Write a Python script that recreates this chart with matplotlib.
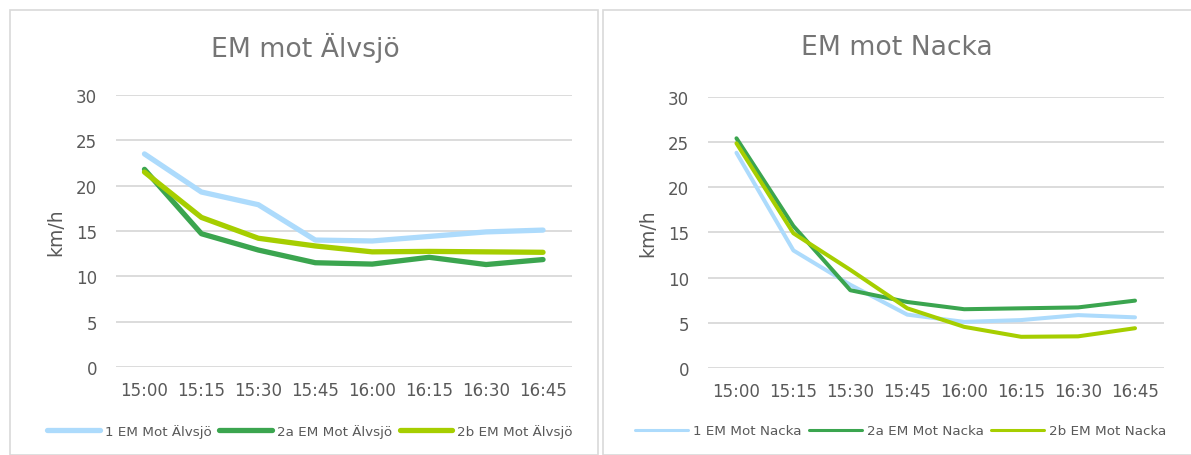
import matplotlib
matplotlib.use("Agg")
import matplotlib.pyplot as plt
from matplotlib.patches import Rectangle
from matplotlib.lines import Line2D

# Time slots on the category axis
times = ["15:00", "15:15", "15:30", "15:45", "16:00", "16:15", "16:30", "16:45"]
yticks = [0, 5, 10, 15, 20, 25, 30]

# Speeds (km/h) towards Älvsjö
alvsjo_1 = [23.5, 19.3, 17.9, 14.0, 13.9, 14.4, 14.9, 15.1]
alvsjo_2a = [21.8, 14.7, 12.9, 11.5, 11.35, 12.1, 11.3, 11.85]
alvsjo_2b = [21.5, 16.5, 14.2, 13.35, 12.7, 12.75, 12.7, 12.65]
alvsjo_labels = ["1 EM Mot Älvsjö", "2a EM Mot Älvsjö", "2b EM Mot Älvsjö"]

# Speeds (km/h) towards Nacka
nacka_1 = [23.8, 13.0, 9.2, 5.9, 5.1, 5.3, 5.85, 5.6]
nacka_2a = [25.4, 15.7, 8.6, 7.3, 6.5, 6.6, 6.7, 7.45]
nacka_2b = [24.85, 14.9, 10.85, 6.6, 4.55, 3.45, 3.5, 4.4]
nacka_labels = ["1 EM Mot Nacka", "2a EM Mot Nacka", "2b EM Mot Nacka"]

colors = ["#ADDBFC", "#3BA54F", "#A6CE00"]
grid_c = "#D9D9D9"
text_c = "#595959"
title_c = "#757575"

plt.rcParams["font.family"] = ["DejaVu Sans"]

fig = plt.figure(figsize=(11.91, 4.56), dpi=100)
W, H = 1191, 456

# Panel frames
fig.patches.append(Rectangle((9.5 / W, 0), (597.5 - 9.5) / W, (456 - 10.5) / H,
                             transform=fig.transFigure, fill=False,
                             edgecolor=grid_c, linewidth=1.2))
fig.patches.append(Rectangle((602.5 / W, 0), (1200 - 602.5) / W, (456 - 10.5) / H,
                             transform=fig.transFigure, fill=False,
                             edgecolor=grid_c, linewidth=1.2))


def panel(rect, title, title_x, series, labels, lw, leg_lw, leg_x):
    ax = fig.add_axes(rect)
    x = list(range(len(times)))
    for vals, c in zip(series, colors):
        ax.plot(x, vals, color=c, linewidth=lw, solid_capstyle="round",
                solid_joinstyle="round", zorder=3)
    ax.set_xlim(-0.5, len(times) - 0.5)
    ax.set_ylim(0, 30)
    ax.set_yticks(yticks)
    ax.set_xticks(x)
    ax.set_xticklabels(times)
    ax.tick_params(axis="both", length=0, labelsize=12, labelcolor=text_c)
    ax.tick_params(axis="y", pad=13.5)
    ax.tick_params(axis="x", pad=10)
    ax.grid(axis="y", color=grid_c, linewidth=1.3, zorder=0)
    for s in ax.spines.values():
        s.set_visible(False)
    ax.set_ylabel("km/h", fontsize=13.5, color=text_c, labelpad=8)
    fig.text(title_x, 1 - 48 / H, title, ha="center", va="center",
             fontsize=19.2, color=title_c)
    handles = [Line2D([], [], color=c, linewidth=leg_lw, solid_capstyle="round")
               for c in colors]
    fig.legend(handles, labels, loc="center", bbox_to_anchor=(leg_x, 1 - 432 / H),
               ncol=3, frameon=False, fontsize=9.7, labelcolor=text_c,
               handlelength=3.9, handletextpad=0.4, columnspacing=0.55)
    return ax


panel([116 / W, 1 - 368 / H, (571.5 - 116) / W, (368 - 96) / H],
      "EM mot Älvsjö", 305 / W, [alvsjo_1, alvsjo_2a, alvsjo_2b],
      alvsjo_labels, 3.8, 3.8, 310 / W)
panel([708 / W, 1 - 369 / H, (1163.5 - 708) / W, (369 - 97.7) / H],
      "EM mot Nacka", 897 / W, [nacka_1, nacka_2a, nacka_2b],
      nacka_labels, 2.9, 2.2, 901 / W)

fig.savefig("out.png", dpi=100)
